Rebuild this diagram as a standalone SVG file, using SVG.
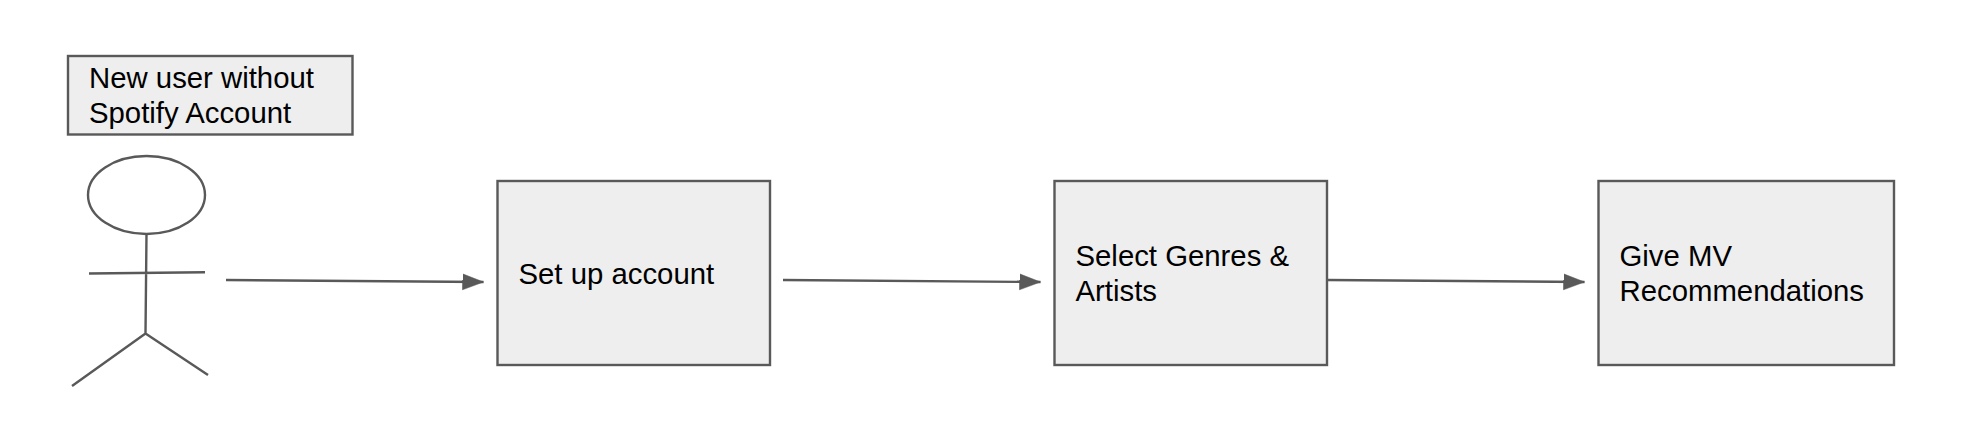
<svg xmlns="http://www.w3.org/2000/svg" width="1974" height="428" viewBox="0 0 1974 428">
<style>
.box{fill:#eeeeee;stroke:#595959;stroke-width:2.400}
.ln{fill:none;stroke:#595959;stroke-width:2.400}
text{font-family:"Liberation Sans",Arial,sans-serif;font-size:29.33px;fill:#000}
</style>
<defs><marker id="a" markerUnits="userSpaceOnUse" markerWidth="26" markerHeight="20" refX="21" refY="9" orient="auto"><path d="M0 1L21 9L0 17Z" fill="#595959" stroke="#595959" stroke-width="0.500"/></marker></defs>
<rect width="1974" height="428" fill="#fff"/>
<g id="note"><rect class="box" x="68" y="56" width="284.500" height="78.500"/><text x="89" y="88">New user without</text><text x="89" y="123">Spotify Account</text></g>
<g id="actor"><ellipse class="ln" cx="146.500" cy="195" rx="58.500" ry="39"/><path class="ln" d="M146.500 234L145.500 333.500M89 273.500L205 272.300M145.500 333.500L72 386M145.500 333.500L208 375"/></g>
<g id="n1"><rect class="box" x="497.500" y="181" width="272.500" height="184"/><text x="518.500" y="284">Set up account</text></g>
<g id="n2"><rect class="box" x="1054.500" y="181" width="272.500" height="184"/><text x="1075.500" y="266">Select Genres &amp;</text><text x="1075.500" y="301">Artists</text></g>
<g id="n3"><rect class="box" x="1598.500" y="181" width="295.500" height="184"/><text x="1619.500" y="266">Give MV</text><text x="1619.500" y="301">Recommendations</text></g>
<g id="connectors"><path class="ln" marker-end="url(#a)" d="M226 280L483.500 282"/><path class="ln" marker-end="url(#a)" d="M783 280L1040.500 282"/><path class="ln" marker-end="url(#a)" d="M1327 280L1584.500 282"/></g>
</svg>
